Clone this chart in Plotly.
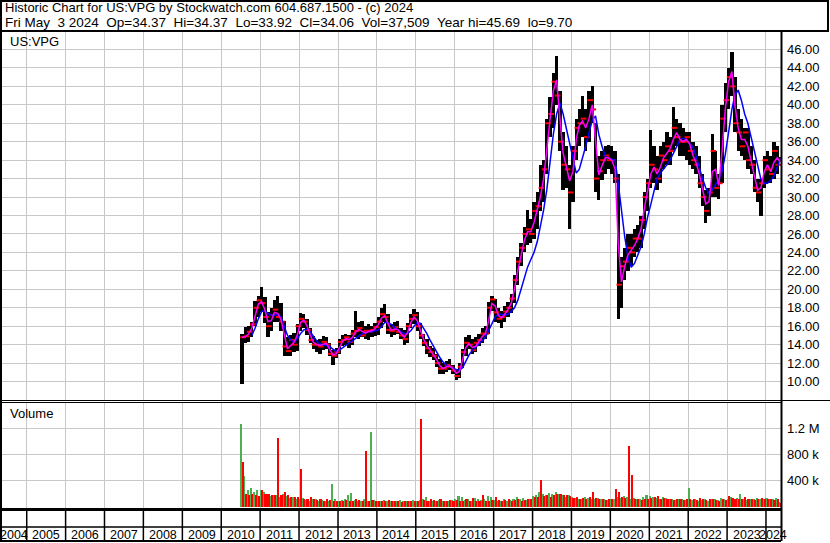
import pandas as pd
import plotly.graph_objects as go

# ---------------- data (monthly, Jul 2010 .. May 2024) ----------------
start_month = "2010-07-01"

high = [
    15.2, 15.9, 16.0, 16.5, 18.7, 19.3,                                  # 2010 Jul-Dec
    20.2, 19.2, 17.5, 18.0, 18.8, 19.3, 18.5, 16.6, 14.8, 15.0, 15.3, 16.2,  # 2011
    17.4, 17.3, 16.8, 15.8, 14.9, 14.5, 14.6, 14.9, 14.8, 14.2, 13.4, 13.6,  # 2012
    14.6, 15.0, 15.2, 15.0, 15.6, 17.7, 16.5, 16.6, 16.0, 16.2, 16.0, 16.4,  # 2013
    17.0, 18.0, 18.4, 17.3, 16.2, 16.5, 16.6, 15.8, 15.6, 16.3, 17.3, 17.9,  # 2014
    17.5, 16.4, 15.2, 14.6, 13.9, 13.6, 13.0, 12.4, 12.0, 12.2, 12.4, 11.8,  # 2015
    11.4, 12.0, 13.5, 14.8, 15.0, 14.6, 14.8, 15.2, 15.8, 16.0, 18.6, 19.3,  # 2016
    19.0, 18.0, 17.6, 18.2, 18.6, 19.5, 21.5, 23.5, 25.0, 26.8, 28.6, 27.6,  # 2017
    29.5, 30.5, 33.5, 34.0, 38.5, 40.8, 43.5, 45.3, 41.5, 37.0, 35.5, 33.5,  # 2018
    35.5, 38.5, 39.5, 41.0, 39.5, 41.5, 42.0, 38.0, 34.5, 35.0, 35.5, 35.6,  # 2019
    35.5, 35.0, 32.5, 23.5, 24.5, 26.0, 26.0, 26.5, 27.0, 28.0, 30.5, 32.0,  # 2020
    37.3, 35.5, 34.5, 35.5, 36.0, 37.0, 36.5, 39.8, 38.5, 38.0, 37.5, 37.0,  # 2021
    37.0, 36.0, 35.5, 34.5, 32.5, 30.8, 31.0, 36.8, 35.0, 32.5, 40.0, 42.4,  # 2022
    44.0, 45.69, 43.0, 39.5, 38.5, 37.5, 37.5, 35.5, 34.0, 32.0, 32.0, 34.5, # 2023
    35.0, 34.5, 36.0, 35.5, 34.37,                                        # 2024 Jan-May
]

low = [
    9.7, 14.2, 14.3, 14.8, 16.0, 17.0,
    17.5, 16.4, 14.8, 15.5, 16.5, 16.5, 15.5, 12.8, 12.8, 12.8, 13.2, 13.3,
    15.5, 15.8, 15.0, 14.2, 13.5, 13.2, 13.0, 13.4, 13.5, 12.8, 11.8, 12.5,
    13.0, 13.8, 14.0, 13.6, 14.0, 14.8, 14.6, 14.8, 14.6, 14.5, 14.8, 14.9,
    15.0, 15.8, 16.5, 15.2, 14.8, 15.0, 15.2, 14.6, 14.0, 14.2, 15.8, 16.2,
    15.5, 14.6, 13.8, 13.0, 12.7, 12.3, 11.6, 10.8, 10.8, 11.0, 11.2, 10.8,
    10.2, 10.4, 11.5, 12.8, 13.5, 13.0, 13.2, 13.8, 14.2, 14.6, 15.2, 17.6,
    16.5, 16.3, 15.8, 16.5, 17.0, 17.4, 18.5, 20.5, 22.5, 24.0, 24.8, 25.0,
    25.5, 26.5, 28.5, 29.5, 32.5, 36.5, 37.5, 40.0, 35.0, 30.8, 31.0, 26.5,
    29.5, 34.0, 35.5, 36.5, 35.0, 36.0, 38.0, 30.5, 29.7, 31.8, 32.5, 33.0,
    32.5, 31.5, 16.8, 18.0, 21.0, 22.0, 22.5, 23.5, 24.0, 24.5, 26.5, 28.5,
    31.0, 31.5, 30.8, 31.5, 33.0, 33.5, 33.5, 35.0, 35.5, 34.5, 34.5, 34.0,
    33.5, 33.0, 32.5, 31.0, 29.0, 27.2, 28.0, 30.0, 30.0, 29.8, 31.5, 37.0,
    39.5, 41.0, 37.0, 35.0, 34.5, 34.0, 33.0, 32.5, 30.5, 29.5, 28.0, 31.0,
    31.5, 31.5, 32.0, 32.5, 33.92,
]

close = [
    14.8, 14.9, 15.4, 16.2, 18.0, 18.8,
    18.5, 17.0, 16.0, 17.2, 17.8, 17.0, 16.5, 13.8, 13.3, 14.5, 14.0, 16.0,
    16.8, 16.5, 15.6, 14.5, 14.0, 14.0, 13.8, 14.3, 14.0, 13.0, 12.8, 13.2,
    14.3, 14.5, 14.8, 14.3, 15.2, 15.5, 15.8, 15.0, 15.5, 15.4, 15.6, 15.9,
    16.5, 17.3, 17.0, 15.6, 15.5, 15.9, 15.4, 15.0, 14.6, 16.0, 16.8, 17.2,
    16.0, 15.0, 14.2, 13.6, 13.2, 12.8, 12.0, 11.4, 11.4, 11.8, 11.6, 11.2,
    10.6, 11.6, 13.2, 14.2, 14.0, 13.4, 14.2, 14.5, 15.2, 15.2, 18.0, 18.9,
    17.5, 16.8, 17.0, 17.6, 18.0, 19.0, 21.0, 23.0, 24.5, 26.0, 26.5, 26.0,
    28.5, 29.0, 31.0, 33.0, 38.0, 39.0, 42.5, 41.0, 36.0, 33.5, 33.0, 30.5,
    35.0, 37.5, 38.0, 38.5, 36.5, 40.5, 39.5, 32.0, 32.8, 34.0, 34.5, 34.0,
    34.0, 32.0, 20.5, 22.5, 23.0, 24.5, 24.0, 25.5, 25.5, 27.5, 30.0, 31.5,
    33.5, 33.0, 32.0, 34.5, 34.0, 35.5, 35.0, 37.5, 36.5, 36.0, 36.0, 36.5,
    35.0, 34.0, 33.5, 31.5, 30.0, 28.5, 30.5, 35.0, 31.0, 31.5, 38.5, 40.5,
    43.0, 42.0, 38.0, 37.0, 35.5, 37.0, 34.0, 33.5, 31.0, 30.5, 31.5, 34.0,
    33.0, 32.5, 35.0, 33.5, 34.06,
]

ma_fast = [
    14.8, 14.85, 15.15, 15.8, 17.1, 18.4,
    18.65, 17.75, 16.5, 16.6, 17.5, 17.4, 16.75, 15.15, 13.55, 13.9, 14.25, 15.0,
    16.4, 16.65, 16.05, 15.05, 14.25, 14.0, 13.9, 14.05, 14.15, 13.5, 12.9, 13.0,
    13.75, 14.4, 14.65, 14.55, 14.75, 15.35, 15.65, 15.4, 15.25, 15.45, 15.5, 15.75,
    16.2, 16.9, 17.15, 16.3, 15.55, 15.7, 15.65, 15.2, 14.8, 15.3, 16.4, 17.0,
    16.6, 15.5, 14.6, 13.9, 13.4, 13.0, 12.4, 11.7, 11.4, 11.6, 11.7, 11.4,
    10.9, 11.1, 12.4, 13.7, 14.1, 13.7, 13.8, 14.35, 14.85, 15.2, 16.6, 18.45,
    18.2, 17.15, 16.9, 17.3, 17.8, 18.5, 20.0, 22.0, 23.75, 25.25, 26.25, 26.25,
    27.25, 28.75, 30.0, 32.0, 35.5, 38.5, 41.5, 42.7, 38.5, 34.75, 33.25, 31.75,
    32.75, 36.25, 37.75, 38.25, 37.5, 38.5, 40.0, 35.75, 32.4, 33.4, 34.25, 34.25,
    34.0, 33.0, 25.0, 20.8, 22.5, 23.75, 24.25, 24.75, 25.5, 26.5, 28.75, 30.75,
    32.5, 33.25, 32.5, 33.25, 34.25, 34.75, 35.25, 36.25, 37.0, 36.25, 36.0, 36.25,
    35.75, 34.5, 33.75, 32.5, 30.75, 29.25, 29.5, 32.75, 33.0, 31.25, 35.0, 39.5,
    42.5, 43.6, 40.0, 37.5, 36.25, 36.25, 35.5, 33.75, 32.25, 30.75, 31.0, 32.75,
    33.5, 32.75, 33.75, 34.25, 33.8,
]

ma_slow = [
    None, None, None, 15.0, 15.8, 16.8,
    17.6, 17.7, 17.4, 17.2, 17.2, 17.3, 17.0, 16.0, 15.0, 14.5, 14.3, 14.6,
    15.2, 15.6, 15.7, 15.4, 14.9, 14.4, 14.1, 14.0, 13.9, 13.8, 13.5, 13.3,
    13.4, 13.7, 14.0, 14.2, 14.4, 14.7, 15.0, 15.2, 15.3, 15.4, 15.4, 15.5,
    15.6, 16.0, 16.4, 16.4, 16.2, 15.9, 15.6, 15.4, 15.2, 15.2, 15.5, 16.0,
    16.4, 16.3, 15.8, 15.2, 14.5, 13.8, 13.2, 12.6, 12.1, 11.8, 11.6, 11.5,
    11.3, 11.2, 11.5, 12.2, 12.9, 13.4, 13.7, 14.0, 14.4, 14.8, 15.5, 16.3,
    17.0, 17.3, 17.3, 17.2, 17.3, 17.6, 18.0, 18.8, 20.0, 21.2, 22.4, 23.2,
    24.0, 25.2, 26.8, 28.6, 30.8, 33.8, 36.8, 39.0, 40.2, 39.0, 37.4, 35.8,
    34.0, 32.6, 33.0, 34.2, 35.5, 37.0, 38.3, 38.8, 36.8, 35.5, 34.4, 34.2,
    34.1, 34.0, 31.5, 28.5, 25.7, 23.5, 22.4, 22.8, 23.8, 24.6, 26.0, 27.8,
    29.2, 30.8, 32.0, 32.6, 33.0, 33.5, 34.0, 34.8, 35.6, 36.2, 36.4, 36.2,
    35.8, 35.4, 34.5, 33.2, 32.0, 31.0, 30.4, 30.8, 31.4, 31.9, 32.8, 34.6,
    37.0, 39.5, 41.0, 41.6, 40.5, 39.0, 38.0, 36.5, 35.0, 33.2, 31.9, 31.5,
    31.5, 31.8, 32.3, 33.2, 34.2,
]

# volume in thousands of shares: up-volume (green) and down-volume (red)
vol_up = [
    1270, 470, 250, 280, 220, 260,
    250, 220, 170, 160, 180, 170, 150, 200, 160, 130, 140, 120,
    120, 130, 100, 90, 120, 110, 90, 100, 90, 80, 340, 110,
    90, 100, 110, 170, 210, 100, 90, 80, 110, 90, 1150, 100,
    90, 80, 100, 80, 90, 80, 90, 100, 80, 90, 80, 100,
    90, 100, 110, 150, 90, 80, 90, 100, 80, 90, 80, 100,
    110, 160, 140, 100, 110, 90, 130, 110, 100, 120, 160, 140,
    100, 90, 80, 110, 90, 100, 120, 140, 110, 130, 100, 110,
    160, 170, 220, 190, 180, 210, 200, 220, 190, 170, 150, 170,
    140, 130, 120, 110, 140, 130, 120, 110, 130, 120, 110, 100,
    110, 120, 140, 130, 160, 150, 120, 130, 110, 120, 140, 170,
    160, 150, 130, 120, 140, 130, 120, 110, 100, 110, 120, 100,
    280, 100, 110, 90, 100, 110, 90, 120, 110, 100, 130, 110,
    120, 140, 110, 130, 190, 110, 100, 120, 110, 130, 120, 110,
    130, 120, 110, 130, 70,
]

vol_down = [
    680, 200, 170, 190, 180, 160,
    260, 200, 190, 170, 180, 1050, 170, 220, 180, 150, 140, 150,
    580, 110, 120, 140, 110, 100, 120, 90, 110, 100, 90, 80,
    80, 90, 100, 80, 90, 110, 100, 90, 850, 90, 100, 80,
    80, 90, 80, 100, 80, 90, 80, 70, 90, 80, 90, 80,
    90, 1340, 100, 90, 110, 100, 80, 110, 90, 80, 100, 90,
    100, 90, 80, 110, 90, 130, 90, 90, 170, 80, 90, 100,
    150, 100, 90, 100, 110, 90, 100, 110, 90, 100, 120, 110,
    140, 150, 410, 160, 180, 150, 170, 190, 200, 170, 180, 160,
    130, 140, 120, 130, 110, 140, 220, 130, 120, 110, 100, 120,
    110, 270, 220, 140, 130, 930, 480, 120, 110, 100, 120, 110,
    130, 140, 160, 120, 130, 110, 120, 100, 110, 120, 100, 110,
    110, 120, 100, 130, 110, 100, 120, 110, 100, 90, 110, 100,
    160, 130, 120, 110, 120, 140, 110, 120, 100, 110, 130, 120,
    110, 120, 100, 110, 50,
]

price_tick_values = [10, 12, 14, 16, 18, 20, 22, 24, 26, 28, 30, 32, 34, 36, 38, 40, 42, 44, 46]
price_tick_labels = ["10.00", "12.00", "14.00", "16.00", "18.00", "20.00", "22.00", "24.00",
                     "26.00", "28.00", "30.00", "32.00", "34.00", "36.00", "38.00", "40.00",
                     "42.00", "44.00", "46.00"]
vol_tick_values = [400000, 800000, 1200000]
vol_tick_labels = ["400 k", "800 k", "1.2 M"]
year_labels = ["2004", "2005", "2006", "2007", "2008", "2009", "2010", "2011", "2012", "2013",
               "2014", "2015", "2016", "2017", "2018", "2019", "2020", "2021", "2022", "2023", "2024"]

symbol_label = "US:VPG"
header_line1 = "Historic Chart for US:VPG by Stockwatch.com 604.687.1500 - (c) 2024"
header_line2 = "Fri May  3 2024  Op=34.37  Hi=34.37  Lo=33.92  Cl=34.06  Vol=37,509  Year hi=45.69  lo=9.70"

# ---------------- styling / layout ----------------
FONT = "Arial, Liberation Sans, sans-serif"
GRID = "#C8C8C8"
W, H = 830, 543
ML, MR, MT, MB = 2, 49, 31, 34
PW, PH = W - ML - MR, H - MT - MB
X_START, X_END = pd.Timestamp("2004-05-14"), pd.Timestamp("2024-05-21")


def px_x(px):
    return (px - ML) / PW


def px_y(py):
    return (H - MB - py) / PH


n = len(close)
months = pd.date_range(start_month, periods=n, freq="MS")
mid = months + pd.Timedelta(days=14)
DAY_MS = 86400000

fig = go.Figure()

# price high-low bars
fig.add_trace(go.Bar(
    x=mid, y=[h - l for h, l in zip(high, low)], base=low,
    width=31 * DAY_MS, marker=dict(color="black", line=dict(width=0)),
    xaxis="x", yaxis="y", hoverinfo="skip"))
# close ticks
fig.add_trace(go.Scatter(
    x=mid + pd.Timedelta(days=10), y=close, mode="markers",
    marker=dict(symbol="line-ew", size=4, color="red", line=dict(color="red", width=2)),
    xaxis="x", yaxis="y", hoverinfo="skip"))
# moving averages
fig.add_trace(go.Scatter(x=mid, y=ma_slow, mode="lines", line=dict(color="#0000FF", width=1.5),
                         xaxis="x", yaxis="y", hoverinfo="skip"))
fig.add_trace(go.Scatter(x=mid, y=ma_fast, mode="lines", line=dict(color="#FF00FF", width=1.5),
                         xaxis="x", yaxis="y", hoverinfo="skip"))

# volume
fig.add_trace(go.Bar(
    x=months + pd.Timedelta(days=7), y=[v * 1000 for v in vol_up], width=15 * DAY_MS,
    marker=dict(color="#4CAF50", line=dict(width=0)), xaxis="x2", yaxis="y2", hoverinfo="skip"))
fig.add_trace(go.Bar(
    x=months + pd.Timedelta(days=22), y=[v * 1000 for v in vol_down], width=15 * DAY_MS,
    marker=dict(color="#FF0000", line=dict(width=0)), xaxis="x2", yaxis="y2", hoverinfo="skip"))

xaxis_common = dict(
    type="date", range=[X_START, X_END], showticklabels=False, ticks="",
    tick0="2005-01-01", dtick="M12", showgrid=True, gridcolor=GRID, gridwidth=1,
    zeroline=False, showline=False, fixedrange=True)

fig.update_layout(
    width=W, height=H, margin=dict(l=ML, r=MR, t=MT, b=MB),
    paper_bgcolor="white", plot_bgcolor="white", showlegend=False,
    barmode="overlay", bargap=0,
    font=dict(family=FONT, size=13, color="black"),
    xaxis=dict(domain=[0, 1], anchor="y", **xaxis_common),
    xaxis2=dict(domain=[0, 1], anchor="y2", matches="x", **xaxis_common),
    yaxis=dict(domain=[px_y(400), 1], range=[8, 48], side="right",
               tickmode="array", tickvals=price_tick_values, ticktext=price_tick_labels,
               ticks="", ticklabelstandoff=5, showgrid=True, gridcolor=GRID, gridwidth=1,
               zeroline=False, showline=False, fixedrange=True,
               tickfont=dict(family=FONT, size=13, color="black")),
    yaxis2=dict(domain=[0, px_y(402)], range=[-37000, 1602000], side="right",
                tickmode="array", tickvals=vol_tick_values, ticktext=vol_tick_labels,
                ticks="", ticklabelstandoff=5, showgrid=True, gridcolor=GRID, gridwidth=1,
                zeroline=False, showline=False, fixedrange=True,
                tickfont=dict(family=FONT, size=13, color="black")),
)

shapes = []


def hline(py, px0, px1, w):
    shapes.append(dict(type="line", xref="paper", yref="paper",
                       x0=px_x(px0), x1=px_x(px1), y0=px_y(py), y1=px_y(py),
                       line=dict(color="black", width=w)))


def vline(px, py0, py1, w):
    shapes.append(dict(type="line", xref="paper", yref="paper",
                       x0=px_x(px), x1=px_x(px), y0=px_y(py0), y1=px_y(py1),
                       line=dict(color="black", width=w)))


# header box
shapes.append(dict(type="rect", xref="paper", yref="paper",
                   x0=px_x(1), x1=px_x(828), y0=px_y(31), y1=px_y(1),
                   line=dict(color="black", width=2)))
vline(1, 31, 541, 2)          # left border
vline(781.5, 31, 541, 2)      # right axis line
hline(400.5, 0, 830, 1)       # price / volume separator
hline(402.5, 0, 781, 1)
hline(509.5, 0, 781, 3)       # volume bottom
hline(527, 0, 781, 1.5)       # strip row separator
hline(541, 0, 781, 2)         # bottom

# year separators in the bottom strip
for yr in range(2005, 2025):
    d = pd.Timestamp(f"{yr}-01-01")
    shapes.append(dict(type="line", xref="x2", yref="paper", x0=d, x1=d,
                       y0=px_y(509), y1=px_y(541), line=dict(color="black", width=1.5)))

annotations = []
# year labels centred in the visible part of each year
for lab in year_labels:
    y0 = max(pd.Timestamp(f"{lab}-01-01"), X_START)
    y1 = min(pd.Timestamp(f"{int(lab) + 1}-01-01"), X_END)
    c = y0 + (y1 - y0) / 2
    annotations.append(dict(xref="x2", yref="paper", x=c, y=px_y(534.5), text=lab,
                            showarrow=False, xanchor="center", yanchor="middle",
                            font=dict(family=FONT, size=12.5, color="black")))

NB = "\u00a0"
annotations.append(dict(xref="paper", yref="paper", x=px_x(3), y=px_y(7.5),
                        text=header_line1.replace("  ", " " + NB), showarrow=False,
                        xanchor="left", yanchor="middle",
                        font=dict(family=FONT, size=13, color="black")))
annotations.append(dict(xref="paper", yref="paper", x=px_x(3), y=px_y(22.5),
                        text=header_line2.replace("  ", " " + NB), showarrow=False,
                        xanchor="left", yanchor="middle",
                        font=dict(family=FONT, size=13.5, color="black")))
annotations.append(dict(xref="paper", yref="paper", x=px_x(8), y=px_y(42),
                        text=symbol_label, showarrow=False, xanchor="left", yanchor="middle",
                        font=dict(family=FONT, size=13, color="black")))
annotations.append(dict(xref="paper", yref="paper", x=px_x(8), y=px_y(413),
                        text="Volume", showarrow=False, xanchor="left", yanchor="middle",
                        font=dict(family=FONT, size=13, color="black")))

fig.update_layout(shapes=shapes, annotations=annotations)

fig.write_html(
    "out.html",
    config={"displayModeBar": False},
    post_script="document.body.style.margin='0';document.body.style.padding='0';",
)
